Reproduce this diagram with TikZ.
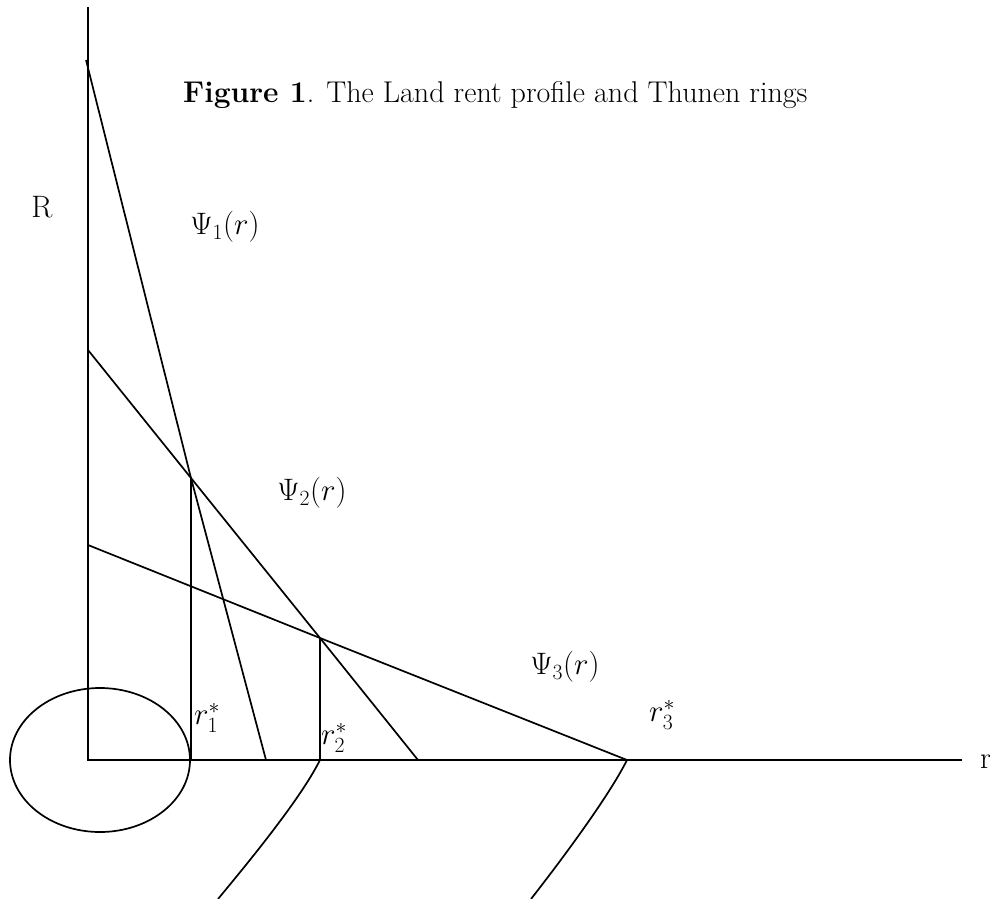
\RequirePackage{fix-cm}
\documentclass[tikz,border=0pt]{standalone}
\begin{document}
\begin{tikzpicture}[x=1pt,y=-1pt,
  curve/.style={line width=1.7pt},
  lbl/.style={inner sep=0pt, font=\fontsize{31}{36}\selectfont},
  ttl/.style={inner sep=0pt, anchor=west, font=\fontsize{30}{36}\selectfont}]
\useasboundingbox (0,0) rectangle (990,899);
% axes and key points
\coordinate (O) at (88,760);
\coordinate (Ytop) at (88,7);
\coordinate (Xend) at (962,760);
\coordinate (A1) at (86,60);
\coordinate (A2) at (88,350);
\coordinate (A3) at (88,545);
\coordinate (B1) at (266,760);
\coordinate (B2) at (418,760);
\coordinate (B3) at (627,760);
\coordinate (P12) at (191,478);
\coordinate (P23) at (320,638);
\coordinate (F1) at (191,760);
\coordinate (F2) at (320,760);
\coordinate (E2) at (218,899);
\coordinate (E3) at (531,899);
\coordinate (C0) at (100,760);
% curves
\draw[curve] (Ytop) -- (O) -- (Xend);
\draw[curve] (A1) -- (P12) -- (B1);
\draw[curve] (A2) -- (P12) -- (P23) -- (B2);
\draw[curve] (A3) -- (P23) -- (B3);
\draw[curve] (P12) -- (F1);
\draw[curve] (P23) -- (F2);
\draw[curve] (C0) ellipse [x radius=90, y radius=72];
\draw[curve] (F2) .. controls (301,798) and (252,858) .. (E2);
\draw[curve] (B3) .. controls (609,796) and (563,858) .. (E3);
% labels
\node[ttl] (title) at (183,95) {\textbf{Figure 1}. The Land rent profile and Thunen rings};
\node[lbl] (R) at (42,207) {R};
\node[lbl] (psi1) at (225,227) {$\Psi_1(r)$};
\node[lbl] (psi2) at (312,493) {$\Psi_2(r)$};
\node[lbl] (psi3) at (565,667) {$\Psi_3(r)$};
\node[lbl] (r1) at (207,718) {$r_1^{*}$};
\node[lbl] (r2) at (334,738) {$r_2^{*}$};
\node[lbl] (r3) at (662,715) {$r_3^{*}$};
\node[lbl, anchor=west] (rax) at (980,762) {r};
\end{tikzpicture}
\end{document}
